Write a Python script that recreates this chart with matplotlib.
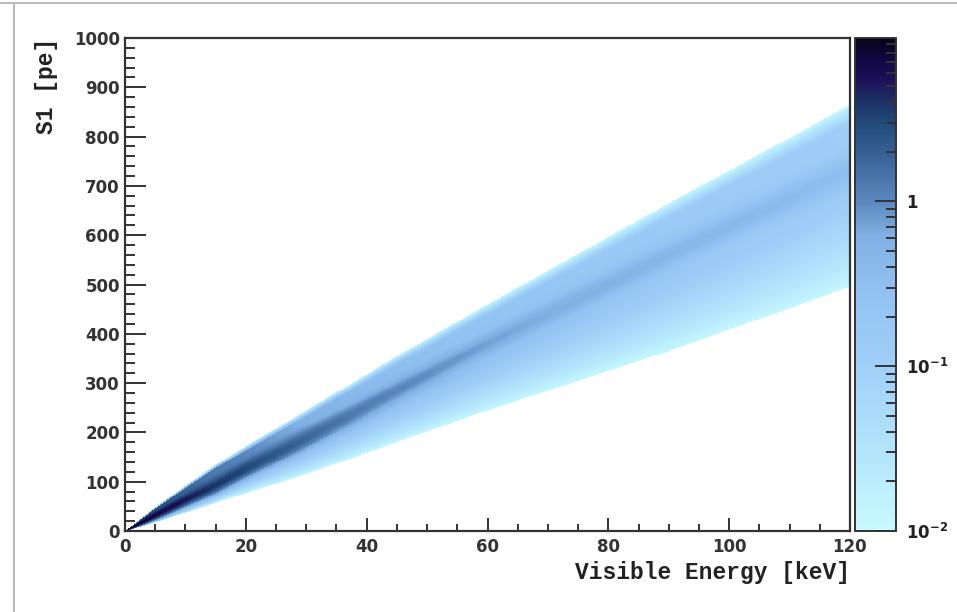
import numpy as np
import matplotlib
matplotlib.use("Agg")
import matplotlib.pyplot as plt
from matplotlib.colors import LinearSegmentedColormap, LogNorm
from matplotlib.ticker import MultipleLocator, LogLocator, FixedLocator, NullFormatter
from matplotlib.lines import Line2D

# band: S1 edges / ridge at a few energies
energy_knots = [0, 5, 10, 15, 20, 30, 45, 60, 90, 120]       # keV
s1_upper = [0, 48, 92, 135, 172, 245, 355, 460, 665, 864]    # pe
s1_ridge = [0, 31, 62, 92, 126, 188, 285, 380, 560, 732]
s1_lower = [0, 18, 37, 57, 77, 115, 180, 245, 365, 495]
peak_energy = [2, 5, 10, 15, 30, 40, 60, 90, 120]
peak_value = [9.5, 8.0, 5.5, 4.0, 1.8, 1.2, 0.75, 0.47, 0.35]

cbar_ticks = [0.01, 0.1, 1]
cbar_labels = [r"$\mathbf{10^{-2}}$", r"$\mathbf{10^{-1}}$", r"$\mathbf{1}$"]

# colour palette (log position 0..1)
pal_pos = [0.0, 0.15, 0.33, 0.5, 0.6, 0.67, 0.76, 0.83, 0.88, 0.92, 0.96, 1.0]
pal_col = ["#c8faff", "#b4e6fc", "#a0d0f8", "#90c0f0", "#80b0e4", "#5a88be",
           "#3a6498", "#204a78", "#1c2c64", "#1c0e58", "#100840", "#080418"]
cmap = LinearSegmentedColormap.from_list("band", list(zip(pal_pos, pal_col)))

# build the 2D histogram
e_edges = np.linspace(0, 120, 481)
s_edges = np.linspace(0, 1000, 1001)
ec = 0.5 * (e_edges[:-1] + e_edges[1:])
sc = 0.5 * (s_edges[:-1] + s_edges[1:])
E, S = np.meshgrid(ec, sc)

up = np.interp(E, energy_knots, s1_upper)
lo = np.interp(E, energy_knots, s1_lower)
rg = np.interp(E, energy_knots, s1_ridge)
pk = 10 ** np.interp(E, peak_energy, np.log10(peak_value))

width = np.maximum(up - lo, 1e-6)
u = (S - lo) / width
h = np.minimum(np.clip(u / 0.45, 0, 1) ** 0.8, np.clip((1 - u) / 0.1, 0, 1) ** 0.9)
lb = np.log10(0.32 * pk)
body = 10 ** (-1.95 + (lb + 1.95) * h)
sig = (0.055 + 0.1 * np.exp(-E / 25)) * width + 0.5
dens = body + 0.68 * pk * np.exp(-0.5 * ((S - rg) / sig) ** 2)
dens = np.where((u >= 0) & (u <= 1), dens, np.nan)
dens = np.clip(dens, 0.0101, 9.7)

plt.rcParams["font.family"] = "DejaVu Sans"
plt.rcParams["font.weight"] = "bold"
plt.rcParams["mathtext.default"] = "bf"

fig = plt.figure(figsize=(9.57, 6.12), dpi=100)
ax = fig.add_axes([125 / 957, 1 - 531 / 612, 725 / 957, 493 / 612])
cax = fig.add_axes([855 / 957, 1 - 531 / 612, 41 / 957, 493 / 612])

mesh = ax.pcolormesh(e_edges, s_edges, dens, cmap=cmap,
                     norm=LogNorm(vmin=0.01, vmax=9.8), shading="flat",
                     rasterized=True)

ax.set_xlim(0, 120)
ax.set_ylim(0, 1000)
ax.xaxis.set_major_locator(MultipleLocator(20))
ax.xaxis.set_minor_locator(MultipleLocator(5))
ax.yaxis.set_major_locator(MultipleLocator(100))
ax.yaxis.set_minor_locator(MultipleLocator(20))
ax.tick_params(axis="both", which="both", direction="in", colors="#333333",
               labelcolor="#333333", labelsize=12, width=1.4)
ax.tick_params(axis="x", which="major", length=9.5, pad=5)
ax.tick_params(axis="x", which="minor", length=5)
ax.tick_params(axis="y", which="major", length=15, pad=3.6)
ax.tick_params(axis="y", which="minor", length=7.5)
for sp in ax.spines.values():
    sp.set_linewidth(1.6)
    sp.set_color("#333333")
for lab in ax.get_xticklabels() + ax.get_yticklabels():
    lab.set_fontweight("bold")

fig.text(850 / 957, 1 - 573 / 612, "Visible Energy [keV]", ha="right", va="center",
         family="Liberation Mono", fontweight="bold", fontsize=16.5, color="#222222")
fig.text(47 / 957, 1 - 38 / 612, "S1 [pe]", ha="center", va="top", rotation=90,
         family="Liberation Mono", fontweight="bold", fontsize=16.5, color="#222222")

cb = fig.colorbar(mesh, cax=cax)
cb.outline.set_linewidth(1.4)
cb.outline.set_edgecolor("#333333")
cax.yaxis.set_ticks_position("right")
cax.yaxis.set_major_locator(FixedLocator(cbar_ticks))
cax.set_yticklabels(cbar_labels)
cax.yaxis.set_minor_locator(LogLocator(base=10, subs=np.arange(2, 10)))
cax.yaxis.set_minor_formatter(NullFormatter())
cax.tick_params(which="both", direction="in", colors="#333333", labelcolor="#222222",
                labelsize=12, width=1.4)
cax.tick_params(which="major", length=15, pad=7)
cax.tick_params(which="minor", length=7.5)

# frame of the original screenshot
fig.add_artist(Line2D([14 / 957, 14 / 957], [0, 1 - 5 / 612], transform=fig.transFigure,
                      color="#bbbbbb", lw=1.5))
fig.add_artist(Line2D([0, 1], [1 - 3 / 612, 1 - 3 / 612], transform=fig.transFigure,
                      color="#bbbbbb", lw=1.5))

fig.savefig("out.png", dpi=100)
